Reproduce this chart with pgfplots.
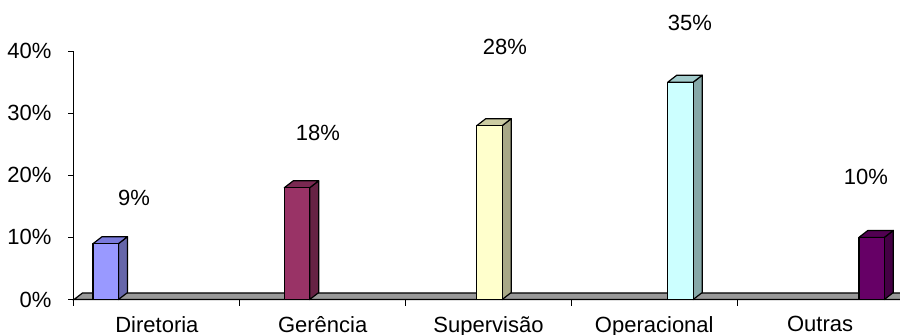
\documentclass[border=0pt]{standalone}
\usepackage{pgfplots}
\pgfplotsset{compat=1.18}
\usepackage{fontspec}
\setmainfont{Liberation Sans}
\definecolor{f1}{HTML}{9999FF}\definecolor{s1}{HTML}{6666AA}\definecolor{t1}{HTML}{7A7ADB}
\definecolor{f2}{HTML}{993366}\definecolor{s2}{HTML}{662244}\definecolor{t2}{HTML}{7A2952}
\definecolor{f3}{HTML}{FFFFCC}\definecolor{s3}{HTML}{A8A887}\definecolor{t3}{HTML}{CCCCA3}
\definecolor{f4}{HTML}{CCFFFF}\definecolor{s4}{HTML}{86A8A8}\definecolor{t4}{HTML}{A3CCCC}
\definecolor{f5}{HTML}{660066}\definecolor{s5}{HTML}{440044}\definecolor{t5}{HTML}{520052}
\newcommand{\dx}{9}
\newcommand{\dy}{1.12}
% #1 bar centre (px), #2 value (%), #3 front, #4 side, #5 top
\newcommand{\tdbar}[5]{%
  \pgfmathsetmacro\xl{#1-12.7}\pgfmathsetmacro\xr{#1+12.7}%
  \pgfmathsetmacro\xlb{#1-12.7+\dx}\pgfmathsetmacro\xrb{#1+12.7+\dx}%
  \pgfmathsetmacro\vt{#2+\dy}%
  \addplot[fill=#4, draw=black, line width=0.6pt, line join=round] coordinates {(\xr,0) (\xrb,\dy) (\xrb,\vt) (\xr,#2)} --cycle;
  \addplot[fill=#5, draw=black, line width=0.6pt, line join=round] coordinates {(\xl,#2) (\xr,#2) (\xrb,\vt) (\xlb,\vt)} --cycle;
  \addplot[fill=#3, draw=black, line width=0.6pt, line join=round] coordinates {(\xl,0) (\xr,0) (\xr,#2) (\xl,#2)} --cycle;
}
\begin{document}
\begin{tikzpicture}
\begin{axis}[
  scale only axis,
  width=414.75pt, height=124.2pt,
  xmin=73.5, xmax=903, ymin=0, ymax=40,
  clip=false,
  axis x line=bottom, axis y line=left,
  axis line style={-, line width=0.6pt},
  tick align=outside,
  ytick={0,10,20,30,40},
  yticklabels={0\%,10\%,20\%,30\%,40\%},
  xtick={156.9,322.7,488.5,654.3,820.1},
  xticklabels={Diretoria,Gerência,Supervisão,Operacional,Outras},
  minor xtick={73.5,239.4,405.3,571.2,737.1,903},
  major x tick style={draw=none},
  minor x tick style={draw=black, line width=0.6pt},
  major y tick style={draw=black, line width=0.6pt},
  minor tick length=3pt,
  major tick length=2.5pt,
  tick label style={font=\fontsize{11}{12}\selectfont},
  yticklabel style={xshift=-5pt},
  xticklabel style={yshift=-2.5pt},
]
\addplot[fill=gray!80, draw=black, line width=0.6pt] coordinates {(74,0) (903,0) (911.5,1.05) (82.5,1.05)} --cycle;
\tdbar{105.8}{9}{f1}{s1}{t1}
\tdbar{297.0}{18}{f2}{s2}{t2}
\tdbar{489.5}{28}{f3}{s3}{t3}
\tdbar{680.5}{35}{f4}{s4}{t4}
\tdbar{871.6}{10}{f5}{s5}{t5}
\begin{scope}[every node/.style={font=\fontsize{11}{12}\selectfont}]
\node at (axis cs:134,16.3) {9\%};
\node at (axis cs:318,26.8) {18\%};
\node at (axis cs:505,40.6) {28\%};
\node at (axis cs:690,44.6) {35\%};
\node at (axis cs:866,19.7) {10\%};
\end{scope}
\coordinate (BL) at (axis cs:0,-5.56);
\coordinate (TR) at (axis cs:900,48.23);
\end{axis}
\pgfresetboundingbox
\path[use as bounding box] (BL) rectangle (TR);
\end{tikzpicture}
\end{document}
